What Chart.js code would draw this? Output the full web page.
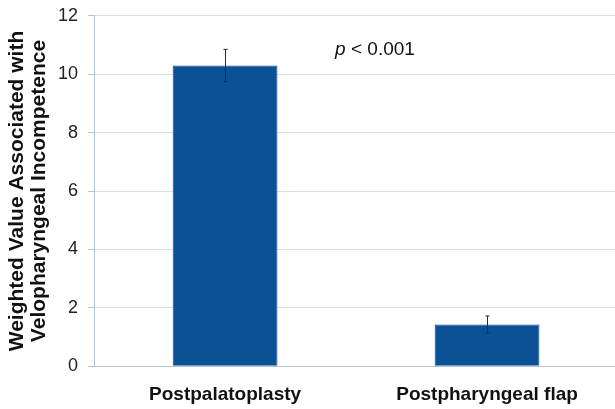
<!DOCTYPE html>
<html>
<head>
<meta charset="utf-8">
<script src="https://cdn.jsdelivr.net/npm/chart.js@4"></script>
<style>
  html, body { margin: 0; padding: 0; background: #fff; overflow: hidden; }
  #wrap { width: 618px; height: 414px; margin-top: -5px; }
</style>
</head>
<body>
<div id="wrap"><canvas id="chart"></canvas></div>
<script>
// DATA
const categories = ["Postpalatoplasty", "Postpharyngeal flap"];
const values = [10.3, 1.43];
const errors = [0.55, 0.29];
const yTicks = [0, 2, 4, 6, 8, 10, 12];

const FONT = "'Liberation Sans', Arial, sans-serif";

// ERROR BARS
const errorBars = {
  id: "errorBars",
  afterDatasetsDraw(chart) {
    const ctx = chart.ctx;
    const meta = chart.getDatasetMeta(0);
    const y = chart.scales.y;
    ctx.save();
    ctx.strokeStyle = "#2a2a2a";
    ctx.lineWidth = 1;
    meta.data.forEach((bar, i) => {
      const top = y.getPixelForValue(values[i] + errors[i]);
      const bot = y.getPixelForValue(values[i] - errors[i]);
      const x = Math.round(bar.x) + 0.5;
      ctx.beginPath();
      ctx.moveTo(x, top); ctx.lineTo(x, bot);
      ctx.moveTo(x - 2, top); ctx.lineTo(x + 2, top);
      ctx.moveTo(x - 2, bot); ctx.lineTo(x + 2, bot);
      ctx.stroke();
    });
    ctx.restore();
  }
};

// P VALUE LABEL
const pLabel = {
  id: "pLabel",
  afterDraw(chart) {
    const ctx = chart.ctx;
    const area = chart.chartArea;
    const y = chart.scales.y.getPixelForValue(10.84);
    const x = area.left + 241;
    ctx.save();
    ctx.fillStyle = "#111";
    ctx.textBaseline = "middle";
    ctx.font = "italic 19px " + FONT;
    ctx.fillText("p", x, y);
    const w = ctx.measureText("p").width;
    ctx.font = "19px " + FONT;
    ctx.fillText(" < 0.001", x + w, y);
    ctx.restore();
  }
};

new Chart(document.getElementById("chart"), {
  type: "bar",
  data: {
    labels: categories,
    datasets: [{
      data: values,
      backgroundColor: "#0b5196",
      borderColor: "#0b4a8c",
      borderWidth: 1,
      barPercentage: 0.4,
      categoryPercentage: 1
    }]
  },
  options: {
    responsive: true,
    maintainAspectRatio: false,
    animation: false,
    layout: { padding: { top: 0, right: 0, bottom: -14, left: 6 } },
    plugins: {
      legend: { display: false },
      tooltip: { enabled: false }
    },
    scales: {
      x: {
        grid: { display: false, drawTicks: false },
        border: { color: "#b3c4d0" },
        ticks: {
          color: "#111",
          padding: 17,
          font: { family: FONT, size: 19, weight: "bold" }
        }
      },
      y: {
        min: 0,
        max: 12,
        afterBuildTicks: (axis) => { axis.ticks = yTicks.map(v => ({ value: v })); },
        grid: { color: "#d6e0e8", tickLength: 6, tickColor: "#b3c4d0" },
        border: { color: "#b3c4d0" },
        ticks: {
          color: "#222",
          padding: 10,
          font: { family: FONT, size: 18 }
        },
        title: {
          display: true,
          text: ["Weighted Value Associated with", "Velopharyngeal Incompetence"],
          color: "#111",
          padding: { top: 0, bottom: -2 },
          font: { family: FONT, size: 21, weight: "bold", lineHeight: 1.05 }
        }
      }
    }
  },
  plugins: [errorBars, pLabel]
});
</script>
</body>
</html>
